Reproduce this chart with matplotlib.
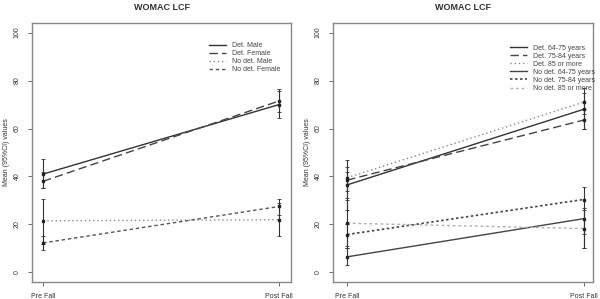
import matplotlib
matplotlib.use("Agg")
import matplotlib.pyplot as plt

plt.rcParams['font.family'] = ['Liberation Sans', 'DejaVu Sans']

x_labels = ["Pre Fall", "Post Fall"]
title = "WOMAC LCF"
ylabel = "Mean (95%CI) values"
yticks = [0, 20, 40, 60, 80, 100]

# Left panel: sex groups
left_names = ["Det. Male", "Det. Female", "No det. Male", "No det. Female"]
left_mean = [[41, 70], [38, 71.5], [21.5, 22], [12.3, 27.5]]
left_low = [[35.3, 64.5], [35, 67], [12, 15], [9.5, 24]]
left_high = [[47.4, 75.5], [42, 76.3], [30.7, 29], [15.3, 30.5]]

# Right panel: age groups
right_names = ["Det. 64-75 years", "Det. 75-84 years", "Det. 85 or more",
               "No det. 64-75 years", "No det. 75-84 years", "No det. 85 or more"]
right_mean = [[36.5, 68], [38.5, 63.5], [39.5, 71],
              [6.5, 22.4], [15.8, 30.4], [20.5, 18.3]]
right_low = [[31, 60], [34, 60], [26, 66],
             [3, 16], [11, 10], [10, 10]]
right_high = [[42, 75], [44, 68], [47, 77],
              [10, 27], [20, 35.5], [30, 26]]

left_styles = [
    dict(ls='-', color='#333333', lw=1.0),
    dict(ls=(0, (6, 3)), color='#444444', lw=1.0),
    dict(ls=(0, (1, 2)), color='#8a8a8a', lw=1.0),
    dict(ls=(0, (2.5, 2)), color='#555555', lw=1.0),
]
right_styles = [
    dict(ls='-', color='#333333', lw=1.0),
    dict(ls=(0, (6, 3)), color='#444444', lw=1.0),
    dict(ls=(0, (1, 2)), color='#8a8a8a', lw=1.0),
    dict(ls='-', color='#444444', lw=1.0),
    dict(ls=(0, (1.5, 1.5)), color='#444444', lw=1.2),
    dict(ls=(0, (2, 2)), color='#b0b0b0', lw=1.0),
]

fig = plt.figure(figsize=(6, 2.99), dpi=100)
ax1 = fig.add_axes([32/600, 1-282/299, (291-32)/600, (282-23)/299])
ax2 = fig.add_axes([333/600, 1-282/299, (593-333)/600, (282-23)/299])

def draw(ax, names, means, lows, highs, styles, xlim, anchor):
    xs = [0, 1]
    for n, m, lo, hi, st in zip(names, means, lows, highs, styles):
        ax.plot(xs, m, label=n, **st)
        yerr = [[m[i]-lo[i] for i in range(2)], [hi[i]-m[i] for i in range(2)]]
        ax.errorbar(xs, m, yerr=yerr, fmt='s', ms=2, color='#222222',
                    ecolor='#333333', elinewidth=0.8, capsize=1.5, capthick=0.6)
    ax.set_xlim(*xlim)
    ax.set_ylim(-4, 104)
    ax.set_xticks(xs)
    ax.set_xticklabels(x_labels, fontsize=5, color='#333333')
    ax.set_yticks(yticks)
    ax.set_yticklabels([str(t) for t in yticks], fontsize=5, rotation=90,
                       va='center', color='#333333')
    ax.tick_params(length=3, width=0.6, color='#555555', pad=5)
    for s in ax.spines.values():
        s.set_color('#888888')
        s.set_linewidth(1.0)
    ax.set_ylabel(ylabel, fontsize=5, color='#333333', labelpad=3)
    ax.set_title(title, fontsize=6.5, fontweight='bold', color='#333333', pad=9)
    leg = ax.legend(loc='upper right', frameon=False, fontsize=5,
                    handlelength=2.5, labelspacing=0.15, borderaxespad=1.2,
                    handletextpad=0.8, bbox_to_anchor=anchor)
    for t in leg.get_texts():
        t.set_color('#444444')

draw(ax1, left_names, left_mean, left_low, left_high, left_styles,
     (-0.047, 1.05), (1.0, 0.969))
draw(ax2, right_names, right_mean, right_low, right_high, right_styles,
     (-0.06, 1.04), (1.05, 0.959))

fig.savefig("out.png", dpi=100)
